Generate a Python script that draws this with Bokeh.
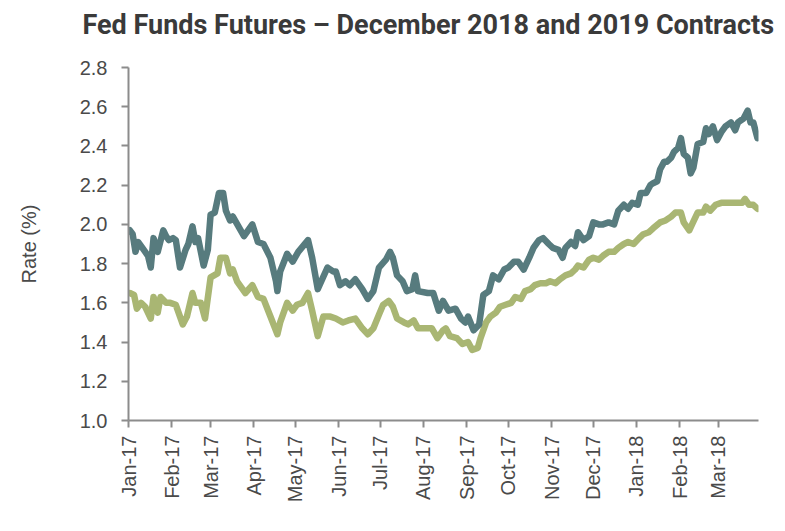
import math
from datetime import datetime
import pandas as pd
from bokeh.plotting import figure
from bokeh.models import (Range1d, DatetimeTickFormatter, MonthsTicker, Legend, LegendItem,
                          FixedTicker, NumeralTickFormatter, Title)
from bokeh.embed import file_html
from bokeh.resources import INLINE

# ---- data ----
dates_dec18 = ["2017-01-02","2017-01-05","2017-01-07","2017-01-10","2017-01-13","2017-01-17","2017-01-19",
    "2017-01-22","2017-01-24","2017-01-28","2017-01-31","2017-02-04","2017-02-09","2017-02-12","2017-02-16",
    "2017-02-18","2017-02-22","2017-02-25","2017-03-01","2017-03-06","2017-03-08","2017-03-12","2017-03-15",
    "2017-03-17","2017-03-20","2017-03-26","2017-03-31","2017-04-04","2017-04-08","2017-04-13","2017-04-18",
    "2017-04-20","2017-04-25","2017-04-29","2017-05-02","2017-05-06","2017-05-10","2017-05-13","2017-05-17",
    "2017-05-21","2017-05-26","2017-05-30","2017-06-04","2017-06-08","2017-06-13","2017-06-18","2017-06-22",
    "2017-06-26","2017-06-30","2017-07-03","2017-07-07","2017-07-10","2017-07-13","2017-07-18","2017-07-21",
    "2017-07-25","2017-07-28","2017-08-02","2017-08-07","2017-08-11","2017-08-15","2017-08-17","2017-08-20",
    "2017-08-25","2017-08-29","2017-09-02","2017-09-05","2017-09-09","2017-09-11","2017-09-15","2017-09-18",
    "2017-09-22","2017-09-25","2017-09-29","2017-10-03","2017-10-06","2017-10-10","2017-10-13","2017-10-17",
    "2017-10-20","2017-10-24","2017-10-28","2017-10-31","2017-11-04","2017-11-07","2017-11-11","2017-11-15",
    "2017-11-18","2017-11-20","2017-11-24","2017-11-28","2017-12-01","2017-12-05","2017-12-08","2017-12-12",
    "2017-12-16","2017-12-19","2017-12-23","2017-12-26","2017-12-30","2018-01-03","2018-01-06","2018-01-10",
    "2018-01-13","2018-01-18","2018-01-22","2018-01-26","2018-01-29","2018-02-02","2018-02-04","2018-02-08",
    "2018-02-10","2018-02-14","2018-02-18","2018-02-20","2018-02-23","2018-02-27","2018-03-03","2018-03-08",
    "2018-03-11","2018-03-15","2018-03-18","2018-03-20","2018-03-23","2018-03-26","2018-03-29"]
rate_dec18 = [1.65,1.64,1.57,1.60,1.58,1.52,1.63,
    1.55,1.63,1.60,1.60,1.59,1.49,1.53,1.65,
    1.60,1.60,1.52,1.73,1.75,1.83,1.83,1.75,
    1.77,1.71,1.65,1.69,1.63,1.62,1.53,1.44,
    1.50,1.60,1.56,1.59,1.60,1.65,1.56,1.43,
    1.53,1.53,1.52,1.50,1.51,1.52,1.47,1.44,
    1.47,1.54,1.59,1.61,1.58,1.52,1.50,1.49,
    1.51,1.47,1.47,1.47,1.42,1.46,1.47,1.43,
    1.42,1.39,1.40,1.36,1.37,1.42,1.50,1.53,
    1.55,1.58,1.59,1.60,1.63,1.62,1.66,1.67,
    1.69,1.70,1.70,1.71,1.70,1.72,1.74,1.75,
    1.77,1.79,1.78,1.82,1.83,1.82,1.84,1.86,
    1.86,1.88,1.90,1.91,1.90,1.93,1.95,1.96,
    1.98,2.01,2.02,2.04,2.06,2.06,2.01,1.97,
    2.00,2.06,2.06,2.09,2.07,2.10,2.11,2.11,
    2.11,2.11,2.11,2.13,2.10,2.10,2.08]

dates_dec19 = ["2017-01-02","2017-01-04","2017-01-06","2017-01-08","2017-01-12","2017-01-15","2017-01-17",
    "2017-01-19","2017-01-22","2017-01-26","2017-01-28","2017-01-30","2017-02-02","2017-02-04","2017-02-07",
    "2017-02-11","2017-02-13","2017-02-16","2017-02-18","2017-02-20","2017-02-24","2017-02-27","2017-03-01",
    "2017-03-04","2017-03-07","2017-03-10","2017-03-12","2017-03-15","2017-03-17","2017-03-25","2017-03-31",
    "2017-04-04","2017-04-08","2017-04-13","2017-04-17","2017-04-18","2017-04-20","2017-04-25","2017-04-29",
    "2017-05-03","2017-05-10","2017-05-13","2017-05-17","2017-05-24","2017-05-28","2017-05-30","2017-06-02",
    "2017-06-06","2017-06-09","2017-06-13","2017-06-18","2017-06-22","2017-06-26","2017-06-30","2017-07-05",
    "2017-07-08","2017-07-10","2017-07-13","2017-07-17","2017-07-20","2017-07-24","2017-07-26","2017-07-28",
    "2017-08-04","2017-08-08","2017-08-12","2017-08-15","2017-08-19","2017-08-24","2017-08-28","2017-08-31",
    "2017-09-02","2017-09-06","2017-09-10","2017-09-13","2017-09-17","2017-09-20","2017-09-24","2017-09-28",
    "2017-10-01","2017-10-05","2017-10-08","2017-10-12","2017-10-16","2017-10-19","2017-10-23","2017-10-26",
    "2017-10-30","2017-11-02","2017-11-06","2017-11-09","2017-11-11","2017-11-15","2017-11-18","2017-11-20",
    "2017-11-24","2017-11-28","2017-12-01","2017-12-05","2017-12-08","2017-12-12","2017-12-16","2017-12-19",
    "2017-12-23","2017-12-26","2017-12-29","2018-01-02","2018-01-04","2018-01-08","2018-01-11","2018-01-13",
    "2018-01-16","2018-01-18","2018-01-21","2018-01-23","2018-01-26","2018-01-28","2018-01-31","2018-02-02",
    "2018-02-04","2018-02-07","2018-02-09","2018-02-11","2018-02-14","2018-02-18","2018-02-20","2018-02-22",
    "2018-02-25","2018-02-28","2018-03-03","2018-03-06","2018-03-10","2018-03-13","2018-03-15","2018-03-19",
    "2018-03-22","2018-03-24","2018-03-26","2018-03-29"]
rate_dec19 = [1.97,1.95,1.86,1.91,1.87,1.84,1.78,
    1.93,1.86,1.97,1.94,1.92,1.93,1.92,1.78,
    1.87,1.90,1.99,1.91,1.93,1.79,1.87,2.05,
    2.06,2.16,2.16,2.07,2.02,2.04,1.94,2.00,
    1.91,1.90,1.83,1.71,1.66,1.76,1.85,1.81,
    1.86,1.92,1.83,1.67,1.78,1.76,1.76,1.69,
    1.71,1.69,1.72,1.67,1.62,1.66,1.78,1.82,
    1.86,1.83,1.74,1.71,1.66,1.67,1.74,1.66,
    1.65,1.65,1.56,1.61,1.56,1.57,1.52,1.50,
    1.53,1.46,1.49,1.64,1.66,1.74,1.72,1.77,
    1.78,1.81,1.81,1.77,1.83,1.88,1.92,1.93,
    1.90,1.88,1.87,1.83,1.88,1.91,1.89,1.96,
    1.92,1.94,2.01,2.00,2.00,2.01,2.00,2.07,
    2.10,2.08,2.11,2.10,2.16,2.16,2.20,2.21,
    2.22,2.28,2.32,2.32,2.34,2.37,2.39,2.44,
    2.36,2.34,2.26,2.29,2.41,2.42,2.49,2.46,
    2.50,2.43,2.47,2.50,2.52,2.48,2.52,2.54,
    2.58,2.52,2.52,2.44]

series_labels = ["Fed Funds Futures Dec 2018", "Fed Funds Futures Dec 2019"]
y_ticks = [1.0, 1.2, 1.4, 1.6, 1.8, 2.0, 2.2, 2.4, 2.6, 2.8]
title_text = "Fed Funds Futures \u2013 December 2018 and 2019 Contracts"

# ---- styling ----
OLIVE = "#a9b673"
TEAL = "#577b7e"
AXIS_GREY = "#8c8c8c"
TEXT = "#4a4a4a"
HEAD = "Roboto"
BODY = "Liberation Sans"

p = figure(width=777, height=530, frame_width=630, frame_height=353,
           x_axis_type="datetime", output_backend="svg", toolbar_location=None,
           x_range=Range1d(datetime(2017, 1, 1), datetime(2018, 3, 29, 18)),
           y_range=Range1d(1.0, 2.8),
           min_border_left=128, min_border_right=19, min_border_top=67, min_border_bottom=60)
p.outline_line_color = None
p.grid.visible = False
p.background_fill_color = "white"
p.border_fill_color = "white"

# spacer between frame and title (pushes the title up)
p.add_layout(Title(text=" ", text_font_size="10px", standoff=10), "above")

p.title.text = title_text
p.title.text_font = HEAD
p.title.text_font_style = "bold"
p.title.text_font_size = "27px"
p.title.text_color = "#3a3a3a"
p.title.align = "left"
p.title.offset = -46
p.title.standoff = 8

x18 = pd.to_datetime(dates_dec18)
x19 = pd.to_datetime(dates_dec19)
r18 = p.line(x18, rate_dec18, line_color=OLIVE, line_width=6.5, line_join="round", line_cap="round")
r19 = p.line(x19, rate_dec19, line_color=TEAL, line_width=6.5, line_join="round", line_cap="round")

# y axis
ya = p.yaxis[0]
ya.ticker = FixedTicker(ticks=y_ticks)
ya.formatter = NumeralTickFormatter(format="0.0")
ya.axis_label = "Rate (%)"
ya.axis_label_text_font = BODY
ya.axis_label_text_font_style = "normal"
ya.axis_label_text_font_size = "20px"
ya.axis_label_text_color = TEXT
ya.axis_label_standoff = 37
ya.major_label_text_font = BODY
ya.major_label_text_font_size = "20px"
ya.major_label_text_color = TEXT
ya.major_label_standoff = 14

# x axis
xa = p.xaxis[0]
xa.ticker = MonthsTicker(months=list(range(12)))
fmt = "%b-%y"
xa.formatter = DatetimeTickFormatter(months=fmt, days=fmt, years=fmt, hours=fmt, minutes=fmt,
                                     seconds=fmt, milliseconds=fmt, microseconds=fmt, hourmin=fmt, minsec=fmt)
xa.major_label_orientation = math.pi / 2
xa.major_label_text_font = BODY
xa.major_label_text_font_size = "20px"
xa.major_label_text_color = TEXT
xa.major_label_standoff = 8

for ax in (xa, ya):
    ax.axis_line_color = AXIS_GREY
    ax.axis_line_width = 2
    ax.major_tick_line_color = AXIS_GREY
    ax.major_tick_line_width = 2
    ax.major_tick_out = 7
    ax.major_tick_in = 0
    ax.minor_tick_line_color = None

legend = Legend(items=[LegendItem(label=series_labels[0], renderers=[r18]),
                       LegendItem(label=series_labels[1], renderers=[r19])],
                orientation="horizontal", location=(-64, 0),
                padding=0, margin=0, spacing=32, label_standoff=3,
                glyph_width=57, glyph_height=20, label_height=20,
                border_line_color=None, background_fill_alpha=0,
                label_text_font=HEAD, label_text_font_style="bold",
                label_text_font_size="19.5px", label_text_color="#3a3a3a")
p.add_layout(legend, "below")

open("out.html", "w").write(file_html(p, INLINE))
